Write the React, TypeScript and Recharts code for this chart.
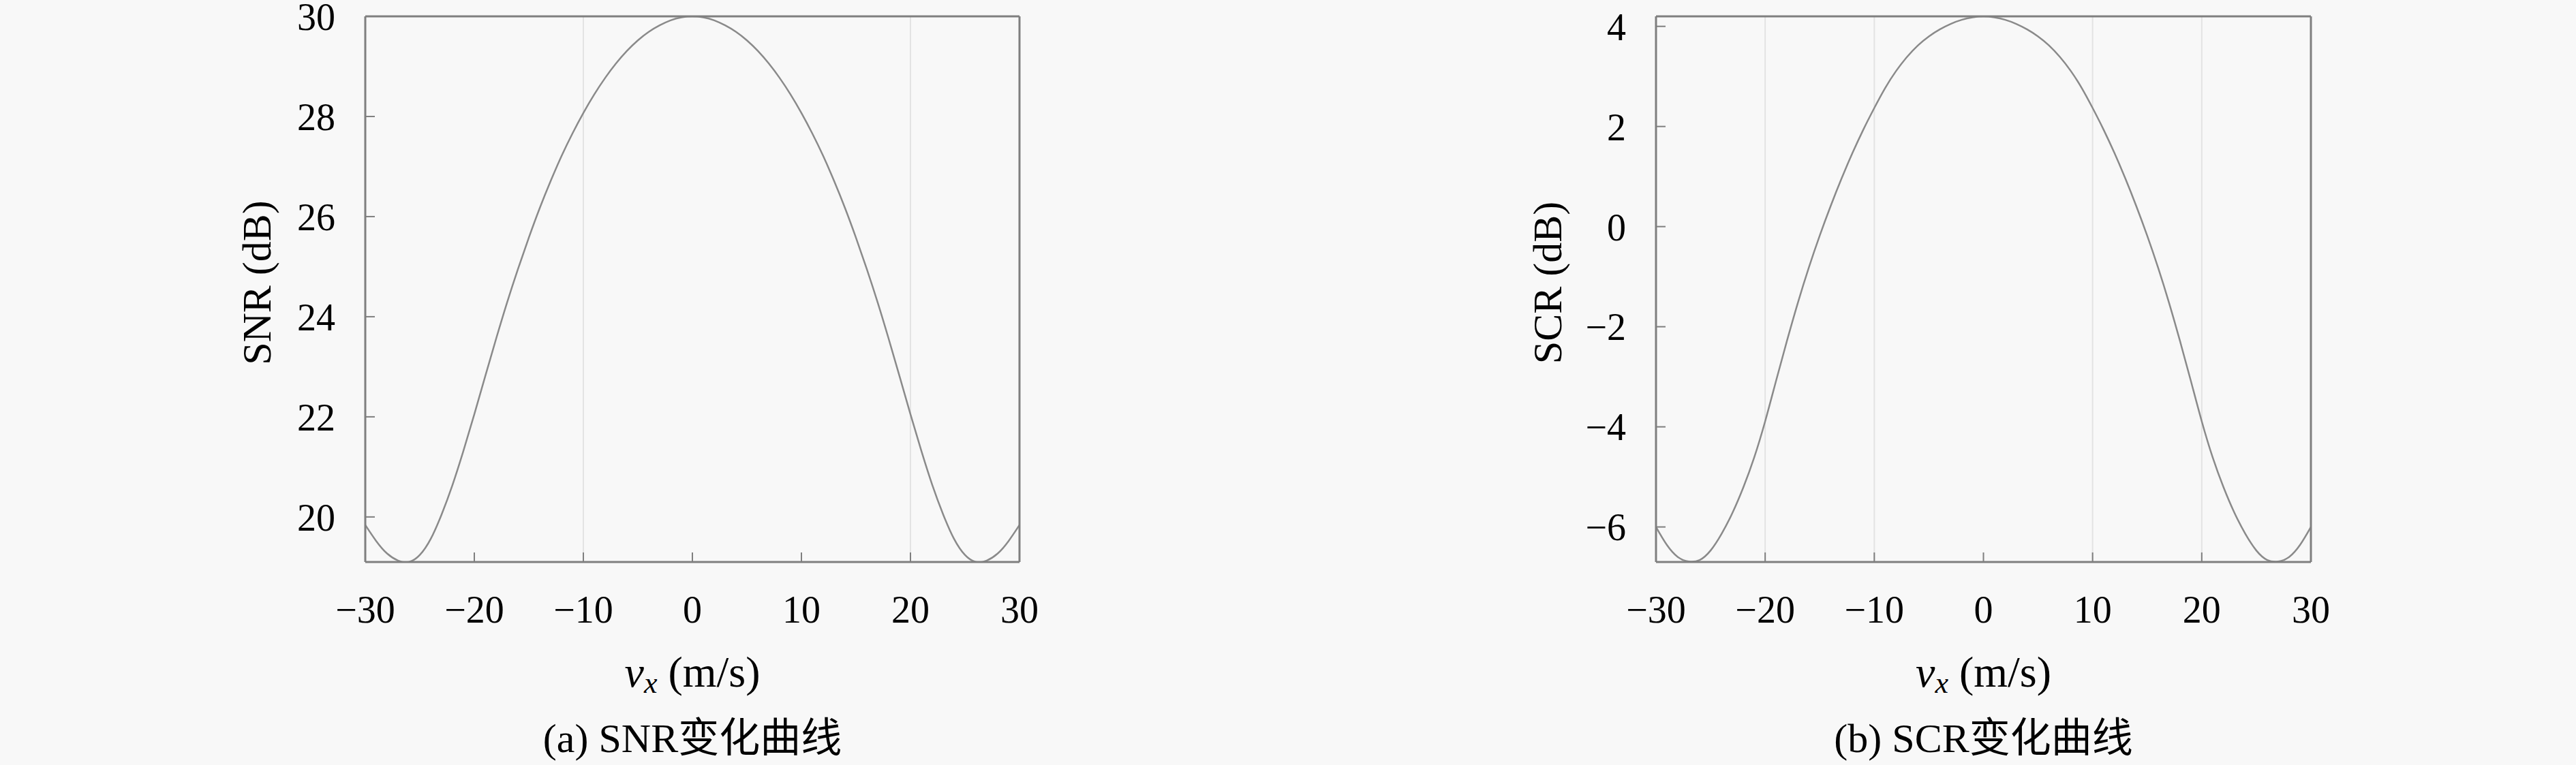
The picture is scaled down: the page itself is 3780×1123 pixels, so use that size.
import React from 'react';
import { LineChart, Line, XAxis, YAxis, ReferenceLine } from 'recharts';

// radial velocity v_x (m/s)
const vx = [
  -30, -29, -28, -27, -26, -25, -24, -23, -22, -21, -20, -19, -18, -17, -16, -15,
  -14, -13, -12, -11, -10, -9, -8, -7, -6, -5, -4, -3, -2, -1, 0,
  1, 2, 3, 4, 5, 6, 7, 8, 9, 10, 11, 12, 13, 14, 15,
  16, 17, 18, 19, 20, 21, 22, 23, 24, 25, 26, 27, 28, 29, 30,
];

// SNR (dB)
const snr = [
  19.84, 19.52, 19.27, 19.13, 19.1, 19.24, 19.56, 20.05, 20.64, 21.32, 22.05, 22.81, 23.56, 24.28, 24.95, 25.58,
  26.17, 26.71, 27.21, 27.66, 28.07, 28.44, 28.77, 29.06, 29.31, 29.52, 29.69, 29.82, 29.92, 29.98, 30.0,
  29.98, 29.92, 29.82, 29.69, 29.52, 29.31, 29.06, 28.77, 28.44, 28.07, 27.66, 27.21, 26.71, 26.17, 25.58,
  24.95, 24.28, 23.56, 22.81, 22.05, 21.32, 20.64, 20.05, 19.56, 19.24, 19.1, 19.13, 19.27, 19.52, 19.84,
];

// SCR (dB)
const scr = [
  -6.0, -6.36, -6.6, -6.69, -6.66, -6.47, -6.14, -5.72, -5.21, -4.61, -3.89, -3.08, -2.28, -1.52, -0.82, -0.18,
  0.41, 0.96, 1.47, 1.94, 2.37, 2.77, 3.11, 3.39, 3.62, 3.8, 3.94, 4.05, 4.13, 4.18, 4.2,
  4.18, 4.13, 4.05, 3.94, 3.8, 3.62, 3.39, 3.11, 2.77, 2.37, 1.94, 1.47, 0.96, 0.41, -0.18,
  -0.82, -1.52, -2.28, -3.08, -3.89, -4.61, -5.21, -5.72, -6.14, -6.47, -6.66, -6.69, -6.6, -6.36, -6.0,
];

const xTicks = [-30, -20, -10, 0, 10, 20, 30];
const snrTicks = [20, 22, 24, 26, 28, 30];
const scrTicks = [-6, -4, -2, 0, 2, 4];
const snrGridX = [-10, 20];
const scrGridX = [-20, -10, 10, 20];

const data = vx.map((v, i) => ({ v, snr: snr[i], scr: scr[i] }));

const PAGE_W = 3780;
const PAGE_H = 1123;
const PLOT_TOP = 24;
const PLOT_BOTTOM = 825;
const Y_AXIS_W = 100;
const X_AXIS_H = 60;
const FONT = "'Liberation Serif', 'Noto Sans CJK SC', serif";
const FRAME = '#7f7f7f';

const fmt = (v: number) => (v < 0 ? '\u2212' + Math.abs(v) : String(v));

interface PanelProps {
  left: number;
  width: number;
  plotLeft: number;
  plotRight: number;
  yKey: string;
  yDomain: [number, number];
  yTicks: number[];
  gridX: number[];
}

const Panel: React.FC<PanelProps> = ({ left, width, plotLeft, plotRight, yKey, yDomain, yTicks, gridX }) => {
  const margin = {
    top: PLOT_TOP - 1,
    left: plotLeft - left - Y_AXIS_W,
    right: width - (plotRight - left) - 1,
    bottom: PAGE_H - PLOT_BOTTOM - X_AXIS_H,
  };
  const axisLine = { stroke: FRAME, strokeWidth: 3 };
  const tickLine = { stroke: FRAME, strokeWidth: 2 };
  const tickStyle = { fill: '#000', fontSize: 56, fontFamily: FONT };
  return (
    <div style={{ position: 'absolute', left, top: 0 }}>
      <LineChart width={width} height={PAGE_H} data={data} margin={margin}>
        <XAxis
          dataKey="v"
          type="number"
          domain={[-30, 30]}
          ticks={xTicks}
          interval={0}
          height={X_AXIS_H}
          tickSize={-14}
          tickMargin={63}
          tickFormatter={fmt}
          tick={tickStyle}
          axisLine={axisLine}
          tickLine={tickLine}
        />
        <XAxis
          xAxisId="top"
          dataKey="v"
          orientation="top"
          type="number"
          domain={[-30, 30]}
          ticks={xTicks}
          interval={0}
          height={1}
          tickSize={-14}
          tick={false}
          axisLine={axisLine}
          tickLine={tickLine}
        />
        <YAxis
          type="number"
          domain={yDomain}
          ticks={yTicks}
          interval={0}
          allowDataOverflow
          width={Y_AXIS_W}
          tickSize={-14}
          tickMargin={58}
          tickFormatter={fmt}
          tick={tickStyle}
          axisLine={axisLine}
          tickLine={tickLine}
        />
        <YAxis
          yAxisId="right"
          orientation="right"
          type="number"
          domain={yDomain}
          ticks={yTicks}
          interval={0}
          allowDataOverflow
          width={1}
          tickSize={-14}
          tick={false}
          axisLine={axisLine}
          tickLine={tickLine}
        />
        {gridX.map((g) => (
          <ReferenceLine key={g} x={g} stroke="#e3e3e3" strokeWidth={2} />
        ))}
        <Line
          dataKey={yKey}
          type="natural"
          stroke="#8a8a8a"
          strokeWidth={2.5}
          dot={false}
          isAnimationActive={false}
        />
        {/* invisible series so the top / right frame axes are in use */}
        <Line
          dataKey={yKey}
          xAxisId="top"
          yAxisId="right"
          type="natural"
          stroke="none"
          dot={false}
          activeDot={false}
          legendType="none"
          isAnimationActive={false}
        />
      </LineChart>
    </div>
  );
};

const panels = [
  { left: 0, width: 1900, plotLeft: 536, plotRight: 1496, yKey: 'snr', yDomain: [19.1, 30] as [number, number], yTicks: snrTicks, gridX: snrGridX, yLabel: 'SNR (dB)', caption: '(a) SNR变化曲线' },
  { left: 1900, width: 1880, plotLeft: 2430, plotRight: 3391, yKey: 'scr', yDomain: [-6.7, 4.2] as [number, number], yTicks: scrTicks, gridX: scrGridX, yLabel: 'SCR (dB)', caption: '(b) SCR变化曲线' },
];

export default function App() {
  return (
    <div style={{ position: 'relative', width: PAGE_W, height: PAGE_H, background: '#f8f8f8', overflow: 'hidden' }}>
      <style>{'body{margin:0}'}</style>
      {panels.map((p) => (
        <Panel key={p.yKey} {...p} />
      ))}
      {/* axis titles and captions */}
      <svg width={PAGE_W} height={PAGE_H} style={{ position: 'absolute', left: 0, top: 0, pointerEvents: 'none' }}>
        {panels.map((p) => {
          const cx = (p.plotLeft + p.plotRight) / 2;
          const ly = p.plotLeft - 139;
          return (
            <g key={p.yKey} fontFamily={FONT} fill="#000">
              <text x={ly} y={415} fontSize={60} textAnchor="middle" transform={`rotate(-90 ${ly} 415)`}>
                {p.yLabel}
              </text>
              <text x={cx} y={1008} fontSize={64} textAnchor="middle">
                <tspan fontStyle="italic">v</tspan>
                <tspan fontStyle="italic" fontSize={44} dy={9}>x</tspan>
                <tspan dy={-9}>{'\u00a0(m/s)'}</tspan>
              </text>
              <text x={cx} y={1104} fontSize={60} textAnchor="middle">
                {p.caption}
              </text>
            </g>
          );
        })}
      </svg>
    </div>
  );
}
